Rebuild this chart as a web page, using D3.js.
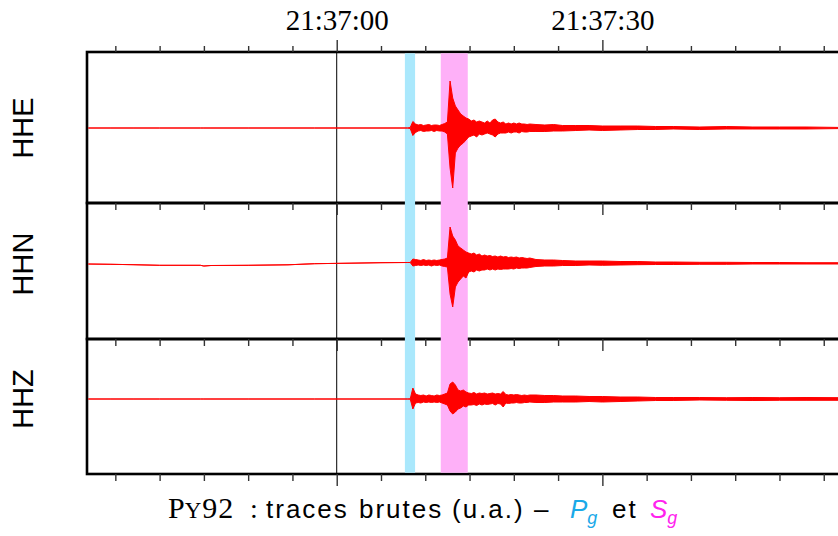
<!DOCTYPE html>
<html><head><meta charset="utf-8">
<script src="https://cdn.jsdelivr.net/npm/d3@7"></script>
<style>body{margin:0;background:#fff;} svg{display:block}</style>
</head><body><svg id="c" width="838" height="536"></svg>
<script>
// ---------- DATA ----------
const channels = ["HHE", "HHN", "HHZ"];
const timeStart = -28.2, timeEnd = 57.4;          // seconds relative to 21:37:00
const labeledTicks = [0, 30];
const tickLabels = ["21:37:00", "21:37:30"];
const pgWindow = [7.7, 8.85];
const sgWindow = [11.75, 14.8];
const ampDomains = [[-75, 76], [-75, 61], [-75, 60]];

const sampleTimes = [-28.2, -25.5, -23, -20, -15.4, -15.0, -14.2, -10, -5.5, -2.5, 1.5, 5, 8.0,
  8.3, 8.6, 8.9, 9.2, 9.5, 9.8, 10.1, 10.4, 10.7, 11.0, 11.3, 11.6, 11.9, 12.2, 12.5, 12.8, 13.1, 13.4, 13.7, 14.0,
  14.3, 14.6, 14.9, 15.2, 15.5, 15.8, 16.1, 16.4, 16.7, 17.0, 17.3, 17.6, 17.9, 18.2, 18.5, 18.8, 19.1, 19.4, 19.7,
  20.0, 20.3, 20.6, 20.9, 21.2, 21.5, 21.8,
  22.5, 23.5, 24.5, 25.5, 27, 28.5, 30, 32, 34, 36, 38, 41, 44, 47, 50, 53, 57.4];

const hheMax = [0,0,0,0,0,0,0,0,0,0,0,0,0,
  0.5,6.5,4,3,3.5, 2.5,3,3.5,2.5,3, 3,2.5,3.5,4.5,6, 47,30,22,18,14, 12,10,9,7,8, 6,7,6,5,7, 5,8,9,6,5, 6,4,5,4,5, 4,5,4,4,3.5, 4,
  3.5,3,3.5,2.5,2.5,2.5,2,2,2,1.5,1.5,1,1.5,1,1,1,0.5];
const hheMin = [0,0,0,0,0,0,0,0,0,0,0,0,0,
  -0.5,-7.5,-4.5,-3,-2.5, -3.5,-3,-3,-2.5,-3.5, -2.5,-3,-3,-4,-6, -40,-60,-25,-20,-17, -15,-12,-9,-8,-7, -9,-6,-7,-6,-5, -6,-7,-9,-6,-5, -5,-5,-4,-5,-4, -4,-5,-3.5,-4,-4, -3.5,
  -3.5,-3.5,-3,-3,-2.5,-2,-2.5,-2,-1.5,-1.5,-1,-1.5,-1,-1,-1,-1,-0.5];

const hhnMax = [0,-0.3,-0.7,-1.3,-1.3,-2,-1.5,-1.3,-0.8,0.3,0.8,1.3,1.5,
  1.5,5,4.5,4,3.5, 4.5,3.5,4,3.5,4, 3.5,4,4.5,5,6, 37,28,24,18,16, 14,12,11,10,11, 9,10,8,9,8, 8.5,7.5,8,7,8, 7,7.5,6.5,7,6.5, 7,6,6.5,6,5.5, 6,
  4.5,4,4,3.5,3,3,3,2.5,2.5,2,2,1.7,1.7,1.5,1.5,1.3,1.3];
const hhnMin = [0,-0.3,-0.7,-1.3,-1.3,-2,-1.5,-1.3,-0.8,0.3,0.8,1.3,1.5,
  1.5,-2,-1.5,-1,-1.5, -1,-1.5,-1,-2,-1, -1.5,-1,-2,-2.5,-3, -30,-43,-23,-18,-15, -12,-14,-8,-7,-8, -6,-7,-6,-6,-5, -6,-5,-6,-5,-5.5, -5,-5,-5,-4.5,-5, -4,-4.5,-4,-4,-4, -3.5,
  -2.5,-2,-2,-1.5,-1.5,-1,-1.3,-1,-0.7,-0.5,-0.5,-0.3,-0.3,0,0,0,0];

const hhzMax = [0,0,0,0,0,0,0,0,0,0,0,0,0,
  0,11,5,4,3.5, 4,3,4,3.5,3, 4,3.5,4,5,6, 15,17,14,9,8, 9,7,6,5.5,6.5, 5,6,5.5,6,5, 5.5,6,5,5.5,5, 7.5,4.5,4,4.5,4, 4.5,4,3.5,4,3.5, 4,
  4,3.5,3.5,3,3,2.5,2.5,2,2,1.5,1.5,1.5,1.3,1.5,1.3,1.5,1.3];
const hhzMin = [0,0,0,0,0,0,0,0,0,0,0,0,0,
  0,-10,-4,-3.5,-4, -3,-3.5,-3,-3.5,-3, -3.5,-3,-4,-5,-6, -12,-15,-13,-10,-9, -7,-8,-6,-6,-5.5, -6.5,-5,-6,-5,-5.5, -5,-4.5,-6,-4.5,-5, -8,-4,-4.5,-4,-4, -3.5,-4,-4,-3.5,-3.5, -3,
  -3.5,-3.5,-3,-3,-3,-2.5,-3,-2.5,-2,-1.5,-1.5,-1,-1.3,-1.5,-1.3,-1.3,-1.3];

const traceMax = [hheMax, hhnMax, hhzMax];
const traceMin = [hheMin, hhnMin, hhzMin];

// ---------- LAYOUT ----------
const left = 87, right = 845;
const panelTops = [52, 203, 339];
const panelBottoms = [203, 339, 474];
const svg = d3.select("#c");
const base = new Date(2000, 0, 1, 21, 37, 0);
const toDate = s => new Date(base.getTime() + s * 1000);
const x = d3.scaleTime().domain([toDate(timeStart), toDate(timeEnd)]).range([left, right]);
const isMajor = d => labeledTicks.some(s => +toDate(s) === +d);

// origin line
svg.append("line")
  .attr("x1", x(toDate(0))).attr("x2", x(toDate(0)))
  .attr("y1", panelTops[0]).attr("y2", panelBottoms[2])
  .attr("stroke", "#000").attr("stroke-width", 1);

// panel borders
channels.forEach((c, i) => {
  svg.append("rect").attr("x", left).attr("y", panelTops[i])
    .attr("width", right - left).attr("height", panelBottoms[i] - panelTops[i])
    .attr("fill", "none").attr("stroke", "#000").attr("stroke-width", 2.6);
});

// phase windows
svg.append("rect").attr("x", x(toDate(pgWindow[0]))).attr("width", x(toDate(pgWindow[1])) - x(toDate(pgWindow[0])))
  .attr("y", panelTops[0] + 1.3).attr("height", panelBottoms[2] - panelTops[0] - 2.6).attr("fill", "#aae8fc");
svg.append("rect").attr("x", x(toDate(sgWindow[0]))).attr("width", x(toDate(sgWindow[1])) - x(toDate(sgWindow[0])))
  .attr("y", panelTops[0] + 1.3).attr("height", panelBottoms[2] - panelTops[0] - 2.6).attr("fill", "#feb0f8");

// traces
channels.forEach((c, i) => {
  const y = d3.scaleLinear().domain(ampDomains[i]).range([panelBottoms[i], panelTops[i]]);
  svg.append("clipPath").attr("id", "clip" + i).append("rect")
    .attr("x", left + 1.3).attr("y", panelTops[i] + 1.3)
    .attr("width", right - left - 2.6).attr("height", panelBottoms[i] - panelTops[i] - 2.6);
  const area = d3.area()
    .x((d, k) => x(toDate(sampleTimes[k])))
    .y0((d, k) => y(traceMin[i][k]))
    .y1((d, k) => y(traceMax[i][k]));
  svg.append("path").datum(sampleTimes).attr("d", area)
    .attr("clip-path", "url(#clip" + i + ")")
    .attr("fill", "#ff0000").attr("stroke", "#ff0000").attr("stroke-width", 1)
    .attr("stroke-linejoin", "round");
  svg.append("text").attr("transform", `translate(33,${y(0)}) rotate(-90)`)
    .attr("text-anchor", "middle").attr("font-family", "Liberation Sans, Arial, sans-serif")
    .attr("font-size", 29).attr("fill", "#000").text(c);
});

// axes
const tickVals = d3.timeSecond.every(5).range(toDate(timeStart), toDate(timeEnd));
const fmt = d => { const k = labeledTicks.findIndex(s => +toDate(s) === +d); return k >= 0 ? tickLabels[k] : ""; };
const topAxis = svg.append("g").attr("transform", `translate(0,${panelTops[0]})`)
  .call(d3.axisTop(x).tickValues(tickVals).tickSizeInner(6).tickSizeOuter(0).tickPadding(10).tickFormat(fmt));
topAxis.select(".domain").remove();
topAxis.selectAll(".tick line").attr("stroke", "#333").attr("stroke-width", 1.4)
  .attr("y2", d => isMajor(d) ? -12 : -6);
topAxis.selectAll(".tick text").attr("font-family", "Liberation Serif, Times New Roman, serif")
  .attr("font-size", 29).attr("fill", "#000").attr("y", -22.5).attr("dy", 0);

panelBottoms.forEach((b, i) => {
  const g = svg.append("g").attr("transform", `translate(0,${b})`)
    .call(d3.axisBottom(x).tickValues(tickVals).tickSizeOuter(0).tickFormat(""));
  g.select(".domain").remove();
  g.selectAll(".tick line").attr("stroke", "#333").attr("stroke-width", 1.4)
    .attr("y2", d => isMajor(d) ? 12 : 7);
});

// title
const ty = 518;
const serif = "Liberation Serif, serif", sans = "Liberation Sans, sans-serif";
const t = svg.append("text").attr("y", ty).attr("fill", "#000");
t.append("tspan").attr("x", 168).attr("font-family", serif).attr("font-size", 30).text("P");
t.append("tspan").attr("font-family", serif).attr("font-size", 23).attr("letter-spacing", 1).text("Y");
t.append("tspan").attr("font-family", serif).attr("font-size", 30).attr("letter-spacing", 1).text("92");
t.append("tspan").attr("x", 250).attr("font-family", serif).attr("font-size", 28).text(":");
const sansParts = [["traces", 266], ["brutes", 359], ["(u.a.)", 452], ["\u2013", 534]];
sansParts.forEach(([s, px]) => t.append("tspan").attr("x", px).attr("font-family", sans)
  .attr("font-size", 26).attr("letter-spacing", 2).text(s));
t.append("tspan").attr("x", 570).attr("font-family", sans).attr("font-size", 26).attr("font-style", "italic").attr("fill", "#1aa9e8").text("P");
t.append("tspan").attr("font-family", sans).attr("font-size", 18).attr("font-style", "italic").attr("fill", "#1aa9e8").attr("dy", 6).text("g");
t.append("tspan").attr("x", 612).attr("dy", -6).attr("font-family", sans).attr("font-size", 26).attr("letter-spacing", 2).text("et");
t.append("tspan").attr("x", 650).attr("font-family", sans).attr("font-size", 26).attr("font-style", "italic").attr("fill", "#ff22ee").text("S");
t.append("tspan").attr("font-family", sans).attr("font-size", 18).attr("font-style", "italic").attr("fill", "#ff22ee").attr("dy", 6).text("g");
</script>
</body></html>
